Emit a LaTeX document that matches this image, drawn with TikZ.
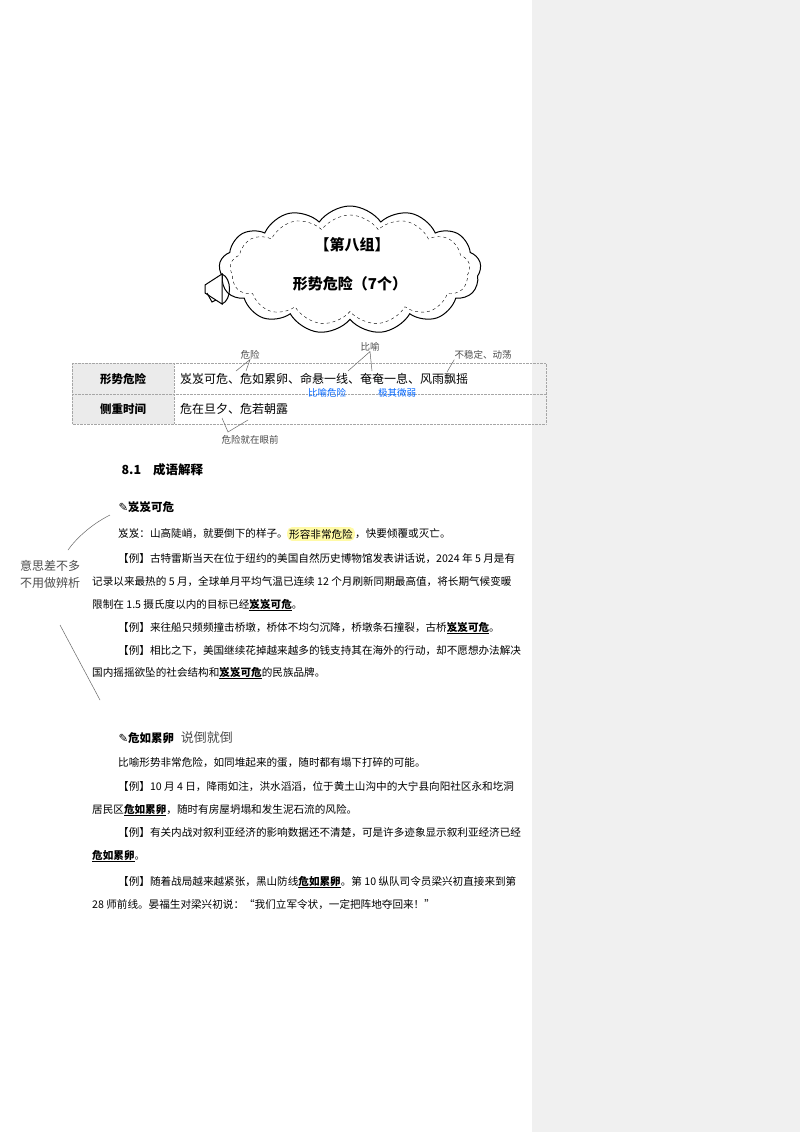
\documentclass[tikz,border=0pt]{standalone}
\usepackage{fontspec}
\newfontfamily\cjk{Noto Sans CJK SC}
\newfontfamily\sym{DejaVu Sans}
\usetikzlibrary{shapes.symbols,positioning}
\newcommand{\kw}[1]{\underline{\textbf{#1}}}
\tikzset{
  body/.style={anchor=west, inner sep=0pt, font=\cjk\fontsize{10.6}{10.6}\selectfont},
  hand/.style={inner sep=0pt, font=\cjk\fontsize{9.5}{9.5}\selectfont, text=black!70},
  bluehand/.style={hand, text=blue!60!cyan},
  stroke/.style={draw=black!60, line width=0.5pt},
  cell/.style={draw=black!35, densely dotted}
}
\begin{document}
\begin{tikzpicture}[x=1pt,y=-1pt]
  \useasboundingbox (0,0) rectangle (800,1132);
  \fill[white] (0,0) rectangle (532,1132);
  \fill[black!6] (532,0) rectangle (800,1132);
  % title cloud
  \node[cloud, cloud puffs=13, cloud puff arc=110, aspect=2.1, draw, line width=1pt,
        minimum width=262, minimum height=128] (cloud) at (350,270) {};
  \node[cloud, cloud puffs=13, cloud puff arc=110, aspect=2.1, draw, dashed,
        minimum width=240, minimum height=110] (cloudin) at (350,270) {};
  \node[font=\cjk\fontsize{15}{15}\selectfont\bfseries] (group) at (352,245) {【第八组】};
  \node[font=\cjk\fontsize{15}{15}\selectfont\bfseries] (topic) at (350,284) {形势危险（7个）};
  \draw[line width=1pt, fill=white] (205,285) -- (222,274) -- (222,304) -- (205,293) -- cycle;
  \draw[line width=1pt] (207,293) -- (212,302) -- (216,300);
  \draw[line width=1pt] (222,274) .. controls (232,278) and (232,300) .. (222,304);
  % table
  \fill[black!8] (72,363) rectangle (174,424);
  \draw[cell] (72,363) rectangle (546,424);
  \draw[cell] (72,394) -- (546,394);
  \draw[cell] (174,363) -- (174,424);
  \node[font=\cjk\fontsize{11.5}{11.5}\selectfont\bfseries] (r1) at (123,379) {形势危险};
  \node[font=\cjk\fontsize{11.5}{11.5}\selectfont\bfseries] (r2) at (123,409) {侧重时间};
  \node[body, font=\cjk\fontsize{12}{12}\selectfont] (idioms) at (180,379) {岌岌可危、危如累卵、命悬一线、奄奄一息、风雨飘摇};
  \node[body, font=\cjk\fontsize{12}{12}\selectfont] (time) at (180,409) {危在旦夕、危若朝露};
  % handwritten notes on the table
  \node[hand] (n1) at (250,355) {危险};
  \draw[stroke] (236,371) -- (n1.south) -- (246,371);
  \node[hand] (n2) at (370,347) {比喻};
  \draw[stroke] (348,371) -- (n2.south) -- (372,371);
  \node[hand] (n3) at (483,355) {不稳定、动荡};
  \draw[stroke] (447,372) -- (n3.south west);
  \node[bluehand] (n4) at (327,393) {比喻危险};
  \node[bluehand] (n5) at (397,393) {极其微弱};
  \node[hand] (n6) at (250,440) {危险就在眼前};
  \draw[stroke] (222,418) -- (228,432) -- (248,420);
  % section
  \node[anchor=west, font=\cjk\fontsize{12.5}{12.5}\selectfont\bfseries] (sec) at (118,470) {8.1\hspace{12pt}成语解释};
  % idiom 1
  \node[anchor=west, font=\cjk\fontsize{11.5}{11.5}\selectfont\bfseries] (h1) at (115,507) {{\sym ✎}岌岌可危};
  \node[body] (a1) at (118,534) {岌岌：山高陡峭，就要倒下的样子。};
  \node[body, fill=yellow!35, inner sep=2pt, right=-1pt of a1, rounded corners=5pt] (hl) {形容非常危险};
  \node[body, right=0pt of hl] (a1b) {，快要倾覆或灭亡。};
  \node[body] (a2) at (118,559) {【例】古特雷斯当天在位于纽约的美国自然历史博物馆发表讲话说，2024 年 5 月是有};
  \node[body] (a3) at (92,582) {记录以来最热的 5 月，全球单月平均气温已连续 12 个月刷新同期最高值，将长期气候变暖};
  \node[body] (a4) at (92,605) {限制在 1.5 摄氏度以内的目标已经\kw{岌岌可危}。};
  \node[body] (a5) at (118,628) {【例】来往船只频频撞击桥墩，桥体不均匀沉降，桥墩条石撞裂，古桥\kw{岌岌可危}。};
  \node[body] (a6) at (118,651) {【例】相比之下，美国继续花掉越来越多的钱支持其在海外的行动，却不愿想办法解决};
  \node[body] (a7) at (92,673) {国内摇摇欲坠的社会结构和\kw{岌岌可危}的民族品牌。};
  \node[hand, font=\cjk\fontsize{12}{12}\selectfont, align=center] (n7) at (50,574) {意思差不多\\[5pt]不用做辨析};
  \draw[stroke] (110,515) .. controls (90,525) and (75,540) .. (68,550);
  \draw[stroke] (60,625) -- (100,700);
  % idiom 2
  \node[anchor=west, font=\cjk\fontsize{11.5}{11.5}\selectfont\bfseries] (h2) at (115,738) {{\sym ✎}危如累卵};
  \node[hand, font=\cjk\fontsize{13}{13}\selectfont, right=3pt of h2] (n8) {说倒就倒};
  \node[body] (b1) at (118,763) {比喻形势非常危险，如同堆起来的蛋，随时都有塌下打碎的可能。};
  \node[body] (b2) at (118,787) {【例】10 月 4 日，降雨如注，洪水滔滔，位于黄土山沟中的大宁县向阳社区永和圪洞};
  \node[body] (b3) at (92,810) {居民区\kw{危如累卵}，随时有房屋坍塌和发生泥石流的风险。};
  \node[body] (b4) at (118,833) {【例】有关内战对叙利亚经济的影响数据还不清楚，可是许多迹象显示叙利亚经济已经};
  \node[body] (b5) at (92,856) {\kw{危如累卵}。};
  \node[body] (b6) at (118,882) {【例】随着战局越来越紧张，黑山防线\kw{危如累卵}。第 10 纵队司令员梁兴初直接来到第};
  \node[body] (b7) at (92,905) {28 师前线。晏福生对梁兴初说：“我们立军令状，一定把阵地夺回来！”};
\end{tikzpicture}
\end{document}
